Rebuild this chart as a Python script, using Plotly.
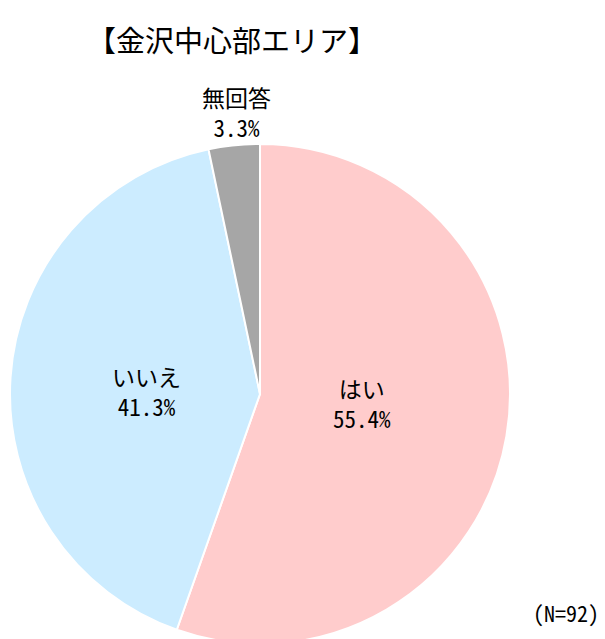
import plotly.graph_objects as go

labels = ["はい", "いいえ", "無回答"]
values = [55.4, 41.3, 3.3]
colors = ["#FFCCCC", "#CCECFF", "#A6A6A6"]
title_text = "【金沢中心部エリア】"
note_text = "(N=92)"

W, H = 605, 647          # a few px taller than the window so the pie bottom is cut like the reference
cx, cy, r = 260, 394, 250
FONT = "Noto Sans Mono CJK JP, Noto Sans CJK JP, sans-serif"
# data-label centres (px from top-left), layout only
label_pos = [(362, 403), (146, 391), (236, 112)]

fig = go.Figure(go.Pie(
    labels=labels,
    values=values,
    sort=False,
    direction="clockwise",
    rotation=0,
    marker=dict(colors=colors, line=dict(color="white", width=2)),
    textinfo="none",
    hoverinfo="label+value",
    showlegend=False,
    domain=dict(x=[(cx - r) / W, (cx + r) / W],
                y=[(H - (cy + r)) / H, (H - (cy - r)) / H]),
))

annotations = [
    dict(text=title_text, x=232 / W, y=1 - 39 / H, xref="paper", yref="paper",
         showarrow=False, font=dict(size=29), xanchor="center", yanchor="middle"),
    dict(text=note_text, x=601 / W, y=1 - 612 / H, xref="paper", yref="paper",
         showarrow=False, font=dict(size=22), xanchor="right", yanchor="middle"),
]
for lab, val, (px, py) in zip(labels, values, label_pos):
    annotations.append(dict(
        text=f"{lab}<br>{val:.1f}%", x=px / W, y=1 - py / H, xref="paper", yref="paper",
        showarrow=False, font=dict(size=23), xanchor="center", yanchor="middle", align="center"))

fig.update_layout(
    width=W, height=H,
    margin=dict(l=0, r=0, t=0, b=0),
    paper_bgcolor="white",
    plot_bgcolor="white",
    font=dict(family=FONT, color="#000000"),
    annotations=annotations,
)

fig.write_html(
    "out.html",
    config={"displayModeBar": False},
    post_script="document.body.style.margin='0';document.body.style.overflow='hidden';",
)
